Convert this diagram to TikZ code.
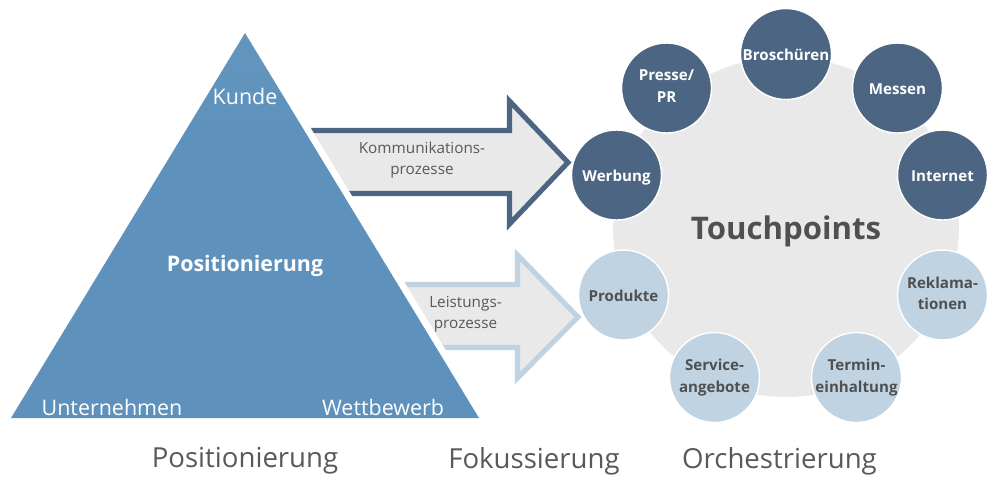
\documentclass[tikz,border=0pt]{standalone}
\usepackage{fontspec}
\usetikzlibrary{shapes.geometric}
\setmainfont{Open Sans}
\definecolor{tritop}{HTML}{6A9DC3}
\definecolor{tribot}{HTML}{5E92BC}
\definecolor{darkblue}{HTML}{4C6583}
\definecolor{lightblue}{HTML}{BFD3E2}
\definecolor{panel}{HTML}{E9E9E9}
\definecolor{txt}{HTML}{595959}
\definecolor{boldtxt}{HTML}{505050}
\pgfdeclareverticalshading{trishade}{100bp}{color(0bp)=(tribot); color(62bp)=(tribot); color(100bp)=(tritop)}
\tikzset{
  x=0.02cm,y=-0.02cm,
  balance/.style={execute at begin node=\rule{0pt}{10pt},execute at end node=\vphantom{Äg}},
  dark/.style={circle,fill=darkblue,draw=white,line width=0.8pt,inner sep=0pt,minimum size=1.8cm,text=white,font=\fontsize{8.6}{12.1}\selectfont\bfseries,align=center,balance},
  light/.style={circle,fill=lightblue,draw=white,line width=0.8pt,inner sep=0pt,minimum size=1.8cm,text=boldtxt,font=\fontsize{8.6}{12.1}\selectfont\bfseries,align=center,balance},
  caption/.style={text=txt,font=\fontsize{15.7}{18}\selectfont,inner sep=0pt,anchor=center},
  arrowlabel/.style={text=txt,font=\fontsize{8.7}{12.2}\selectfont,align=center,inner sep=0pt},
  tri/.style={text=white,font=\fontsize{12.2}{14}\selectfont,inner sep=0pt},
}
\begin{document}
\begin{tikzpicture}
\useasboundingbox (0,0) rectangle (1000,485);
% arrows, running under the triangle's white margin
\fill[panel] (300,133) -- (510,133) -- (510,101) -- (568,162.5) -- (510,224) -- (510,191) -- (330,191) -- cycle;
\draw[darkblue,line width=2.9pt,miter limit=10] (295,130.5) -- (509.5,130.5) -- (509.5,101) -- (568,162.5) -- (509.5,224) -- (509.5,193.5) -- (330,193.5);
\fill[panel] (380,287) -- (517,287) -- (517,255) -- (578,317) -- (517,378) -- (517,345) -- (420,345) -- cycle;
\draw[lightblue,line width=2.9pt,miter limit=10] (380,284.5) -- (517.5,284.5) -- (517.5,255) -- (578,317) -- (517.5,378) -- (517.5,347.5) -- (420,347.5);
% triangle
\draw[white,line width=7.75pt] (245,33) -- (479,418);
\shade[shading=trishade] (245,33) -- (479,418) -- (11,418) -- cycle;
\node[tri] (kunde) at (245,96) {Kunde};
\node[tri] (unt) at (112,407) {Unternehmen};
\node[tri] (wett) at (383,407) {Wettbewerb};
\node[text=white,font=\fontsize{12.2}{14}\selectfont\bfseries,inner sep=0pt] (pos) at (245,266) {Positionierung};
\node[arrowlabel] (kp) at (422,160) {Kommunikations-\\prozesse};
\node[arrowlabel] (lp) at (465.5,314) {Leistungs-\\prozesse};
% touchpoints
\node[ellipse,fill=panel,inner sep=0pt,minimum width=6.92cm,minimum height=6.8cm] (tp) at (786,227) {};
\node[text=boldtxt,font=\fontsize{17.75}{20}\selectfont\bfseries,inner sep=0pt] (tplabel) at (786,231) {Touchpoints};
\node[dark,minimum size=1.82cm] (b) at (786,54) {Broschüren};
\node[dark] (p) at (666.5,88) {Presse/\\PR};
\node[dark] (m) at (897.5,88) {Messen};
\node[dark] (w) at (616.5,175) {Werbung};
\node[dark] (i) at (942.5,175) {Internet};
\node[light] (pr) at (623.5,295) {Produkte};
\node[light] (r) at (942.5,295) {Reklama-\\tionen};
\node[light] (s) at (714.5,377.5) {Service-\\angebote};
\node[light] (t) at (856.5,377.5) {Termin-\\einhaltung};
\node[caption] (c1) at (245,461) {Positionierung};
\node[caption] (c2) at (534,461) {Fokussierung};
\node[caption] (c3) at (779.5,461) {Orchestrierung};
\end{tikzpicture}
\end{document}
